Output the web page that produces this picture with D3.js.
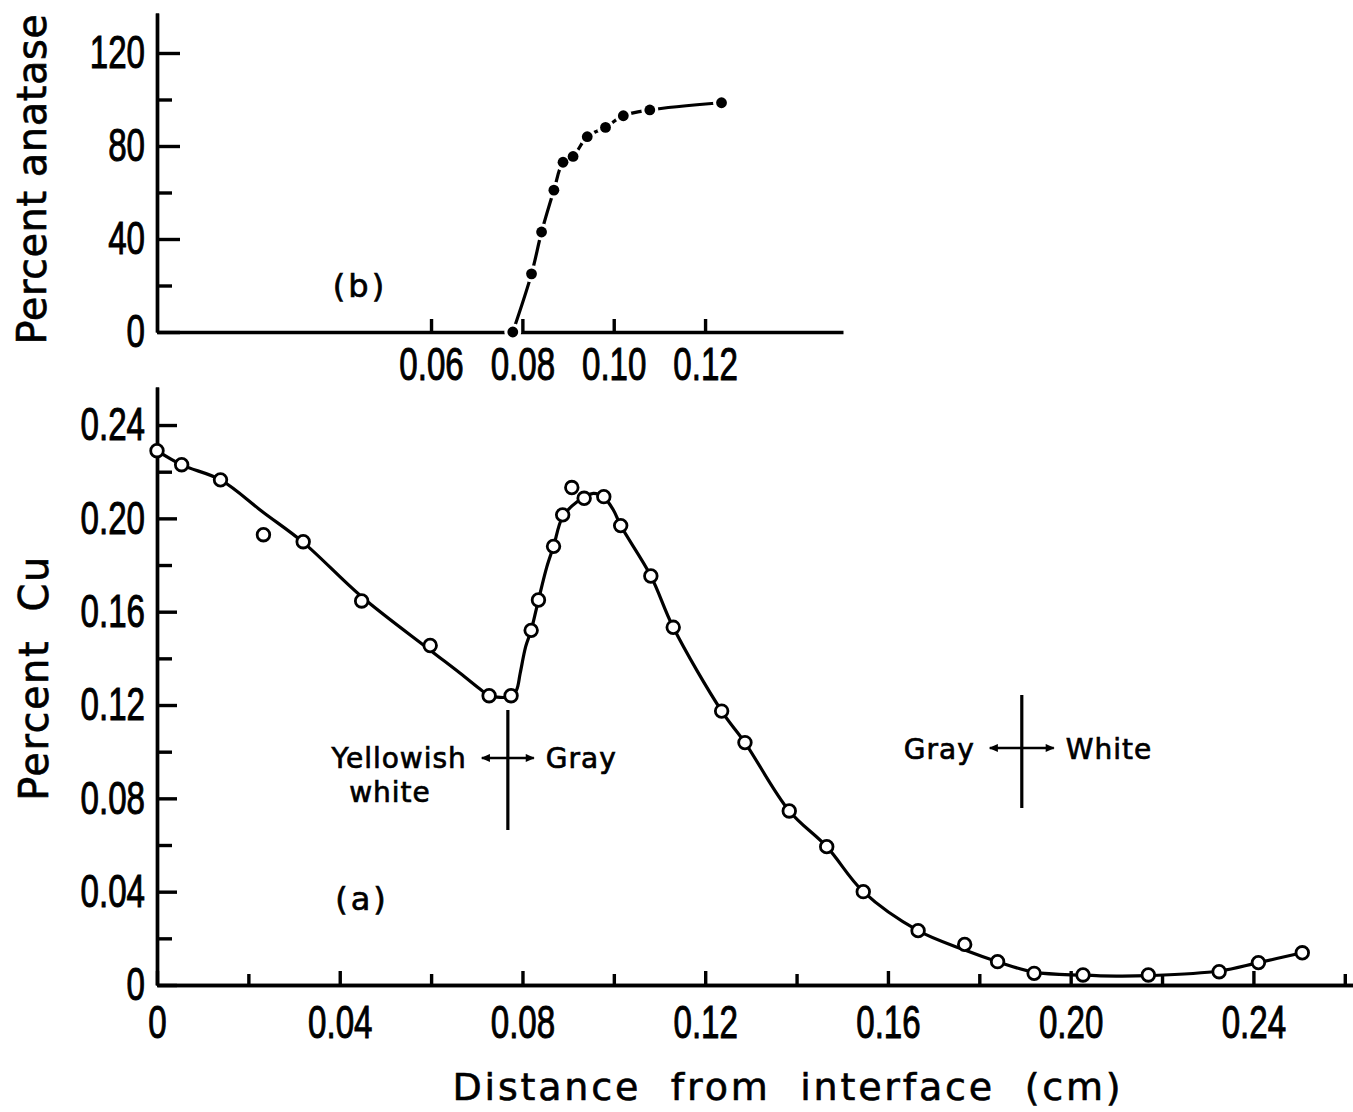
<!DOCTYPE html>
<meta charset="utf-8">
<style>
body { margin: 0; background: #fff; }

.axis path, .axis line {
	stroke: black;
	stroke-width: 3.4;
}

.axis text {
	font: 46px "Liberation Sans", sans-serif;
	fill: black;
	stroke: black;
	stroke-width: 1;
}

.title {
	font-family: "DejaVu Sans", sans-serif;
	fill: black;
	stroke: black;
	stroke-width: 0.6;
	text-anchor: middle;
}

.note {
	font: 28px "DejaVu Sans", sans-serif;
	fill: black;
	stroke: black;
	stroke-width: 0.7;
	letter-spacing: 1px;
}

.fit {
	fill: none;
	stroke: black;
	stroke-width: 3.2;
	stroke-linejoin: round;
}
</style>
<svg class="canvas"></svg>
<script src="https://cdn.jsdelivr.net/npm/d3@7"></script>
<script>

// (b) percent anatase, filled dots
var anataseX = [0.0779, 0.0820, 0.0842, 0.0869, 0.0889, 0.0911, 0.0942, 0.0982, 0.1021, 0.1079, 0.1236];
var anataseY = [0, 25, 43, 61, 73, 75.5, 84, 88, 93, 95.5, 98.6];

// (a) percent Cu, open circles
var cuX = [0, 0.0054, 0.0139, 0.0233, 0.0320, 0.0448, 0.0598, 0.0727, 0.0775, 0.0819, 0.0835,
	0.0868, 0.0888, 0.0908, 0.0935, 0.0978, 0.1015, 0.1081, 0.1130, 0.1236, 0.1287, 0.1384,
	0.1466, 0.1546, 0.1666, 0.1768, 0.1840, 0.1920, 0.2027, 0.2170, 0.2325, 0.2411, 0.2507];
var cuY = [0.229, 0.223, 0.2165, 0.193, 0.190, 0.1646, 0.1455, 0.124, 0.124, 0.152, 0.165,
	0.188, 0.2015, 0.2132, 0.2086, 0.2093, 0.1969, 0.1753, 0.1533, 0.1174, 0.1039, 0.0746,
	0.0593, 0.040, 0.0233, 0.0174, 0.010, 0.005, 0.0043, 0.0043, 0.0057, 0.0096, 0.0138];

// hand drawn curve through (a)
var fitX = [0, 0.0054, 0.0139, 0.0233, 0.0320, 0.0448, 0.0598, 0.0663, 0.0711, 0.0727,
	0.0775, 0.0787, 0.0795, 0.0807, 0.0819, 0.0835, 0.0853, 0.0868, 0.0888, 0.0919, 0.0955,
	0.0978, 0.0999, 0.1015, 0.1081, 0.1130, 0.1236, 0.1287, 0.1384, 0.1466, 0.1546, 0.1666,
	0.1768, 0.1840, 0.1920, 0.2027, 0.2100, 0.2170, 0.2325, 0.2411, 0.2507];
var fitY = [0.229, 0.2229, 0.2165, 0.2025, 0.1897, 0.1664, 0.1435, 0.1337, 0.1262, 0.1240,
	0.1237, 0.1264, 0.1336, 0.145, 0.152, 0.165, 0.179, 0.188, 0.2007, 0.207, 0.2107,
	0.209, 0.2036, 0.1969, 0.1753, 0.1533, 0.1174, 0.1039, 0.0746, 0.0593, 0.040, 0.0233,
	0.015, 0.010, 0.0055, 0.0042, 0.0038, 0.0040, 0.0060, 0.0096, 0.0138];

// tick values
var topYTicks = [0, 40, 80, 120];
var topYMinor = [20, 60, 100];
var topXTicks = [0.06, 0.08, 0.10, 0.12];
var botYTicks = [0, 0.04, 0.08, 0.12, 0.16, 0.20, 0.24];
var botYMinor = [0.02, 0.06, 0.10, 0.14, 0.18, 0.22];
var botXTicks = [0, 0.04, 0.08, 0.12, 0.16, 0.20, 0.24];
var botXMinor = [0.02, 0.06, 0.10, 0.14, 0.18, 0.22, 0.26];

// colour boundaries
var boundaryX = [0.0768, 0.1893];
var boundaryLeft = ["Yellowish", "Gray"];
var boundaryRight = ["Gray", "White"];

var width = 1353,
	height = 1112;

var canvas = d3.select(".canvas")
	.attr("width", width)
	.attr("height", height);

var xTop = d3.scaleLinear().domain([0, 0.1502]).range([157, 843]);
var yTop = d3.scaleLinear().domain([0, 137.2]).range([332, 13]);
var xBot = d3.scaleLinear().domain([0, 0.2618]).range([157, 1353]);
var yBot = d3.scaleLinear().domain([0, 0.2563]).range([985, 387]);

var fmt = function(d) { return d === 0 ? "0" : d3.format(".2f")(d); };

// narrow the tick digits like the lettering of the original
function squeeze(g) {
	g.selectAll("text").each(function() {
		var t = d3.select(this);
		var x = +t.attr("x") || 0, y = +t.attr("y") || 0;
		t.attr("x", 0).attr("y", 0)
			.attr("transform", "translate(" + x + "," + y + ") scale(0.72,1)");
	});
}

// ---- panel (b)
canvas.append("g").attr("class", "axis")
	.attr("transform", "translate(157,0)")
	.call(d3.axisLeft(yTop).tickValues(topYMinor).tickSize(-15).tickSizeOuter(0).tickFormat(""));
canvas.append("g").attr("class", "axis")
	.attr("transform", "translate(157,0)")
	.call(d3.axisLeft(yTop).tickValues(topYTicks).tickSize(-23).tickSizeOuter(0).tickPadding(12).tickFormat(d3.format("d")))
	.call(squeeze);
canvas.append("g").attr("class", "axis")
	.attr("transform", "translate(0,332)")
	.call(d3.axisBottom(xTop).tickValues(topXTicks).tickSize(-13).tickSizeOuter(0).tickPadding(15).tickFormat(fmt))
	.call(squeeze);

var anatase = anataseX.map(function(d, i) { return [d, anataseY[i]]; });

canvas.append("path")
	.attr("class", "fit")
	.attr("stroke-width", 3.6)
	.attr("d", d3.line()
		.x(function(d) { return xTop(d[0]); })
		.y(function(d) { return yTop(d[1]); })
		.curve(d3.curveCatmullRom)(anatase));

canvas.selectAll("circle.halo").data(anatase)
	.enter().append("circle")
	.attr("class", "halo")
	.attr("cx", function(d) { return xTop(d[0]); })
	.attr("cy", function(d) { return yTop(d[1]); })
	.attr("r", 8.5)
	.attr("fill", "white");

canvas.selectAll("circle.dot").data(anatase)
	.enter().append("circle")
	.attr("class", "dot")
	.attr("cx", function(d) { return xTop(d[0]); })
	.attr("cy", function(d) { return yTop(d[1]); })
	.attr("r", 5.4)
	.attr("fill", "black");

canvas.append("text")
	.attr("class", "title")
	.attr("transform", "translate(46,179) rotate(-90)")
	.style("font-size", "40px")
	.style("letter-spacing", "0.5px")
	.text("Percent anatase");

canvas.append("text")
	.attr("class", "note")
	.attr("x", 360).attr("y", 297)
	.attr("text-anchor", "middle")
	.style("font-size", "32px")
	.style("letter-spacing", "3px")
	.text("(b)");

// ---- panel (a)
canvas.append("g").attr("class", "axis")
	.attr("transform", "translate(157,0)")
	.call(d3.axisLeft(yBot).tickValues(botYMinor).tickSize(-15).tickSizeOuter(0).tickFormat(""));
canvas.append("g").attr("class", "axis")
	.attr("transform", "translate(157,0)")
	.call(d3.axisLeft(yBot).tickValues(botYTicks).tickSize(-20).tickSizeOuter(0).tickPadding(12).tickFormat(fmt))
	.call(squeeze);
canvas.append("g").attr("class", "axis")
	.attr("transform", "translate(0,985)")
	.call(d3.axisBottom(xBot).tickValues(botXMinor).tickSize(-11).tickSizeOuter(0).tickFormat(""));
canvas.append("g").attr("class", "axis")
	.attr("transform", "translate(0,985)")
	.call(d3.axisBottom(xBot).tickValues(botXTicks).tickSize(-14).tickSizeOuter(0).tickPadding(20).tickFormat(fmt))
	.call(squeeze);

var fit = fitX.map(function(d, i) { return [d, fitY[i]]; });

canvas.append("path")
	.attr("class", "fit")
	.attr("d", d3.line()
		.x(function(d) { return xBot(d[0]); })
		.y(function(d) { return yBot(d[1]); })
		.curve(d3.curveCatmullRom.alpha(0.5))(fit));

canvas.selectAll("circle.cu").data(cuX)
	.enter().append("circle")
	.attr("class", "cu")
	.attr("cx", function(d) { return xBot(d); })
	.attr("cy", function(d, i) { return yBot(cuY[i]); })
	.attr("r", 6.3)
	.attr("fill", "white")
	.attr("stroke", "black")
	.attr("stroke-width", 2.8);

canvas.append("text")
	.attr("class", "title")
	.attr("transform", "translate(48,678) rotate(-90)")
	.style("font-size", "40px")
	.style("letter-spacing", "1.5px")
	.style("white-space", "pre")
	.text("Percent  Cu");

canvas.append("text")
	.attr("class", "title")
	.attr("x", 788).attr("y", 1100)
	.style("font-size", "38px")
	.style("letter-spacing", "2.8px")
	.style("white-space", "pre")
	.text("Distance  from  interface  (cm)");

canvas.append("text")
	.attr("class", "note")
	.attr("x", 362).attr("y", 910)
	.attr("text-anchor", "middle")
	.style("font-size", "32px")
	.style("letter-spacing", "3px")
	.text("(a)");

// colour boundary markers
var defs = canvas.append("defs");
defs.append("marker")
	.attr("id", "head")
	.attr("viewBox", "0 -5 10 10")
	.attr("refX", 9).attr("refY", 0)
	.attr("markerUnits", "userSpaceOnUse")
	.attr("markerWidth", 11).attr("markerHeight", 9)
	.attr("orient", "auto-start-reverse")
	.append("path")
	.attr("d", "M0,-4.5L10,0L0,4.5Z")
	.attr("fill", "black");

var marks = [
	{ x: boundaryX[0], top: 710, bottom: 830, arrowY: 758, half: 26, textY: 768 },
	{ x: boundaryX[1], top: 695, bottom: 808, arrowY: 748, half: 32, textY: 759 }
];

marks.forEach(function(m, i) {
	var cx = xBot(m.x);
	canvas.append("line")
		.attr("x1", cx).attr("x2", cx)
		.attr("y1", m.top).attr("y2", m.bottom)
		.attr("stroke", "black").attr("stroke-width", 3.2);
	canvas.append("line")
		.attr("x1", cx - m.half).attr("x2", cx + m.half)
		.attr("y1", m.arrowY).attr("y2", m.arrowY)
		.attr("stroke", "black").attr("stroke-width", 2.4)
		.attr("marker-start", "url(#head)")
		.attr("marker-end", "url(#head)");
	canvas.append("text")
		.attr("class", "note")
		.attr("x", cx - m.half - 15).attr("y", m.textY)
		.attr("text-anchor", "end")
		.text(boundaryLeft[i]);
	canvas.append("text")
		.attr("class", "note")
		.attr("x", cx + m.half + 12).attr("y", m.textY)
		.text(boundaryRight[i]);
});

canvas.append("text")
	.attr("class", "note")
	.attr("x", 390).attr("y", 802)
	.attr("text-anchor", "middle")
	.text("white");

</script>
